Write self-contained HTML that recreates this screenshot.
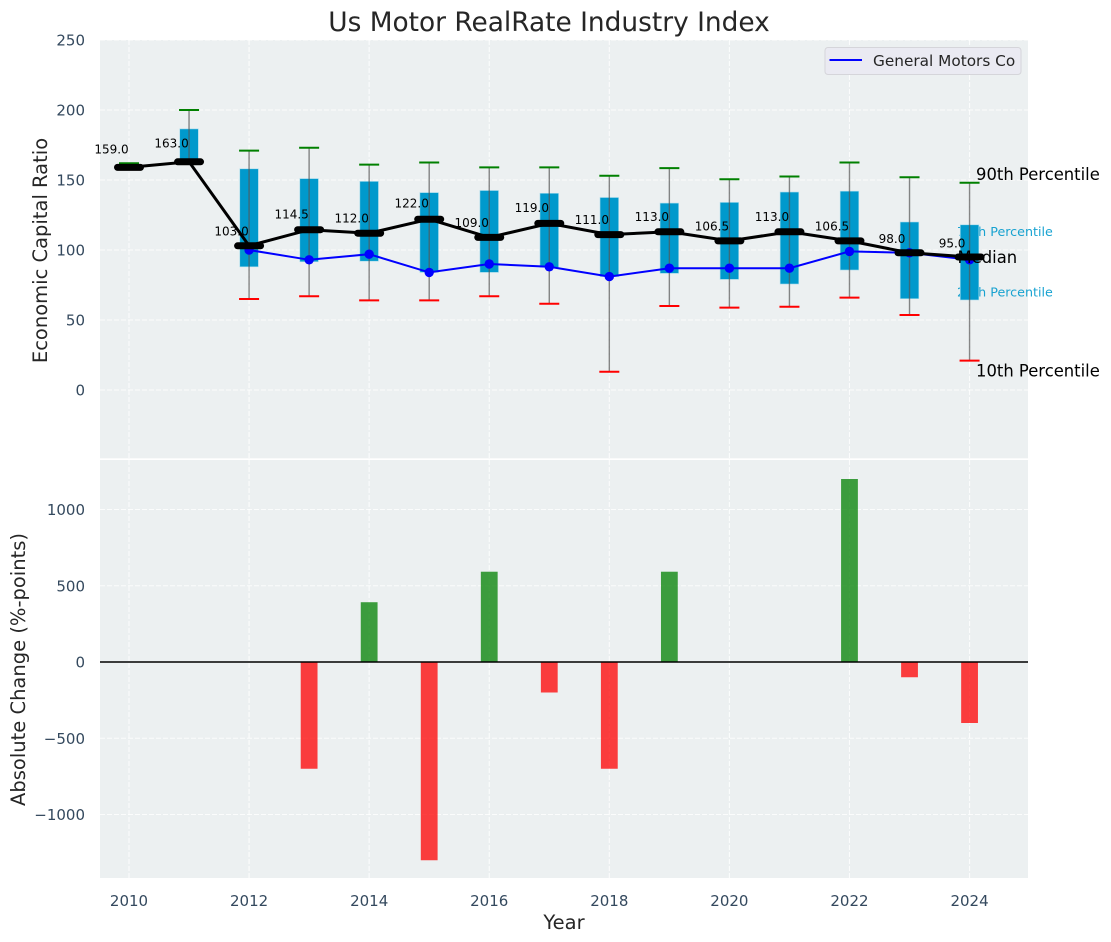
<!DOCTYPE html>
<html lang="en">
<head>
<meta charset="utf-8">
<title>Us Motor RealRate Industry Index</title>
<style>
html,body{margin:0;padding:0;background:#fff;}
svg{display:block;font-family:"DejaVu Sans","Liberation Sans",sans-serif;}
</style>
</head>
<body>
<svg id="chart" xmlns="http://www.w3.org/2000/svg" width="1111" height="942" viewBox="0 0 1111 942">
  <rect x="100" y="40" width="928" height="418.3" fill="#ecf0f1"/>
  <rect x="100" y="460" width="928" height="418" fill="#ecf0f1"/>
  <g id="grid"></g>
  <g id="ticks"></g>
  <g id="under"></g>
  <g id="marks"></g>
  <g id="series"></g>
  <g id="sideLabels"></g>
  <g id="medians"></g>
  <g id="bars"></g>
  <text x="549" y="31" text-anchor="middle" font-size="26.4" fill="#262626">Us Motor RealRate Industry Index</text>
  <text transform="translate(47,250.5) rotate(-90)" text-anchor="middle" font-size="19.5" fill="#262626">Economic Capital Ratio</text>
  <text transform="translate(25,669.5) rotate(-90)" text-anchor="middle" font-size="19.5" fill="#262626">Absolute Change (%-points)</text>
  <text x="564" y="929" text-anchor="middle" font-size="19.5" fill="#262626">Year</text>
  <g>
    <rect x="825" y="47.5" width="196" height="27" rx="3" fill="#eaeaf2" stroke="#d5d5da" stroke-width="1"/>
    <line x1="829.5" x2="862" y1="60" y2="60" stroke="#0000ff" stroke-width="2"/>
    <text x="873" y="66" font-size="15.3" fill="#262626">General Motors Co</text>
  </g>
</svg>
<script>
const years = [2010,2011,2012,2013,2014,2015,2016,2017,2018,2019,2020,2021,2022,2023,2024];
const p90Values = [162,200,171,173,161,162.5,159,159,153,158.5,150.5,152.5,162.5,152,148];
const p75Values = [159,186.5,158,151,149,141,142.5,140.5,137.5,133.5,134,141.4,142,120,118];
const medianValues = [159,163,103,114.5,112,122,109,119,111,113,106.5,113,106.5,98,95];
const p25Values = [159,163,88,91.6,92,84,84,87.6,81,83.3,79,75.7,85.7,65.2,64.3];
const p10Values = [159,163,65,67,64,64,67,61.6,13,60,58.8,59.5,66,53.6,21];
const companyValues = [null,null,100,93,97,84,90,88,81,87,87,87,99,98,93];
const changeValues = [null,null,null,-700,392,-1300,592,-200,-700,592,null,null,1200,-100,-400];
const xTickYears = [2010,2012,2014,2016,2018,2020,2022,2024];
const topTicks = [0,50,100,150,200,250];
const bottomTicks = [-1000,-500,0,500,1000];

const NS = 'http://www.w3.org/2000/svg';
const X = y => 129 + (y - 2010) * 60.04;
const YT = v => 390 - v * 1.4;
const YB = v => 662 - v * 0.1525;
function mk(tag, attrs, parentId) {
  const el = document.createElementNS(NS, tag);
  for (const k in attrs) el.setAttribute(k, attrs[k]);
  document.getElementById(parentId).appendChild(el);
  return el;
}
const gridStyle = {stroke:'#ffffff','stroke-width':1.1,'stroke-dasharray':'5 2','stroke-opacity':0.8};

xTickYears.forEach(y => {
  [[40,458.3],[460,878]].forEach(r => {
    const g = mk('line', {x1:X(y),x2:X(y),y1:r[0],y2:r[1],...gridStyle}, 'grid');
    
    
  });
  const t = mk('text', {x:X(y),y:906,'text-anchor':'middle','font-size':15,fill:'#34495e'}, 'ticks');
  
  
  t.textContent = y;
});
topTicks.forEach(v => {
  const g = mk('line', {x1:100,x2:1028,y1:YT(v),y2:YT(v),...gridStyle}, 'grid');
  
  
  const t = mk('text', {x:85,y:YT(v)+5.5,'text-anchor':'end','font-size':15,fill:'#34495e'}, 'ticks');
  
  
  t.textContent = v;
});
bottomTicks.forEach(v => {
  const g = mk('line', {x1:100,x2:1028,y1:YB(v),y2:YB(v),...gridStyle}, 'grid');
  
  
  const t = mk('text', {x:85,y:YB(v)+5.5,'text-anchor':'end','font-size':15,fill:'#34495e'}, 'ticks');
  
  
  t.textContent = String(v).replace('-', '\u2212');
});

const last = years.length - 1;
const lx = X(years[last]);
const l75 = mk('text', {x:lx-12.5,y:YT(p75Values[last])+11,'font-size':12.7,fill:'#0099cc','fill-opacity':0.9}, 'under');


l75.textContent = '75th Percentile';
const l25 = mk('text', {x:lx-12.5,y:YT(p25Values[last])-3.5,'font-size':12.7,fill:'#0099cc','fill-opacity':0.9}, 'under');


l25.textContent = '25th Percentile';

years.forEach((y, i) => {
  const x = X(y);
  const box = mk('rect', {x:x-9.3,y:YT(p75Values[i]),width:18.6,height:Math.max(0,YT(p25Values[i])-YT(p75Values[i])),fill:'#0099cc',stroke:'#a9dcec','stroke-width':0.6}, 'marks');
  
  
  const w = mk('line', {x1:x,x2:x,y1:YT(p90Values[i]),y2:YT(p10Values[i]),stroke:'#555','stroke-opacity':0.7,'stroke-width':1.4}, 'marks');
  
  
  const hi = mk('line', {x1:x-10,x2:x+10,y1:YT(p90Values[i]),y2:YT(p90Values[i]),stroke:'#008000','stroke-width':2}, 'marks');
  
  
  const lo = mk('line', {x1:x-10,x2:x+10,y1:YT(p10Values[i]),y2:YT(p10Values[i]),stroke:'#ff0000','stroke-width':2}, 'marks');
  
  
});

const companyPoints = years.map((y, i) => companyValues[i] === null ? null : [X(y), YT(companyValues[i])]).filter(Boolean);
const companyLine = mk('polyline', {points:companyPoints.map(p => p.join(',')).join(' '),fill:'none',stroke:'#0000ff','stroke-width':2}, 'series');


companyPoints.forEach(p => {
  const c = mk('circle', {cx:p[0],cy:p[1],r:4.7,fill:'#0000ff'}, 'series');
  
  
});

const s90 = mk('text', {x:lx+6.5,y:YT(p90Values[last])-3,'font-size':16.4,fill:'#000'}, 'sideLabels');


s90.textContent = '90th Percentile';
const s10 = mk('text', {x:lx+6.5,y:YT(p10Values[last])+16,'font-size':16.4,fill:'#000'}, 'sideLabels');


s10.textContent = '10th Percentile';
const sm = mk('text', {x:lx-12,y:YT(medianValues[last])+6,'font-size':16.4,fill:'#000'}, 'sideLabels');


sm.textContent = 'Median';

const medianLine = mk('polyline', {points:years.map((y, i) => X(y) + ',' + YT(medianValues[i])).join(' '),fill:'none',stroke:'#000','stroke-width':3}, 'medians');


years.forEach((y, i) => {
  const x = X(y);
  const m = mk('line', {x1:x-11.5,x2:x+11.5,y1:YT(medianValues[i]),y2:YT(medianValues[i]),stroke:'#000','stroke-width':7,'stroke-linecap':'round'}, 'medians');
  
  
  const t = mk('text', {x:x-17.5,y:YT(medianValues[i]*1.05)-3,'text-anchor':'middle','font-size':12,fill:'#000'}, 'medians');
  
  
  t.textContent = medianValues[i].toFixed(1);
});

years.forEach((y, i) => {
  const v = changeValues[i];
  if (v === null) return;
  const top = Math.min(YB(0), YB(v));
  const b = mk('rect', {x:X(y)-8.4,y:top,width:16.8,height:Math.abs(YB(v)-YB(0)),fill:v>=0?'#008000':'#ff0000','fill-opacity':0.75}, 'bars');
  
  
});
const zero = mk('line', {x1:100,x2:1028,y1:YB(0),y2:YB(0),stroke:'#000','stroke-width':1.6}, 'bars');


</script>
</body>
</html>
